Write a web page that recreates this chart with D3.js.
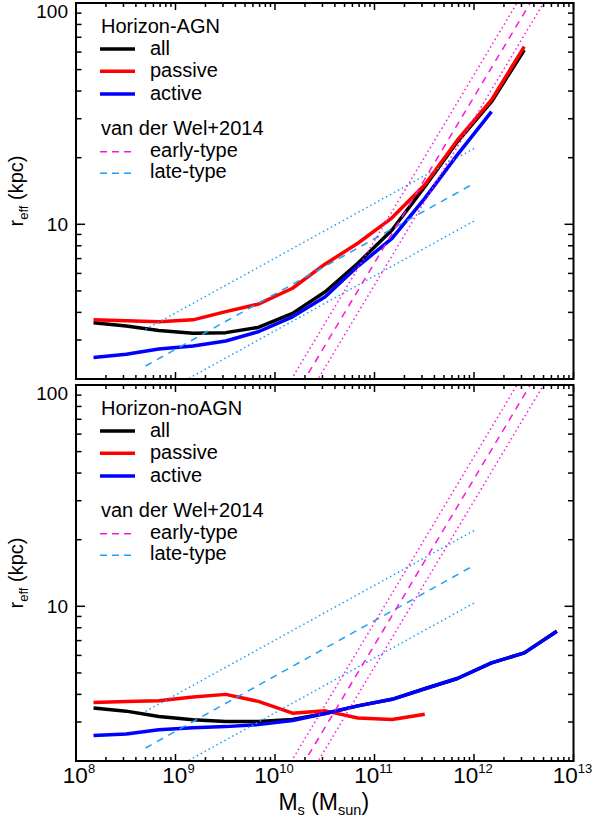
<!DOCTYPE html>
<html>
<head>
<meta charset="utf-8">
<script src="https://cdn.jsdelivr.net/npm/d3@7"></script>
<style>
  body { margin: 0; background: #fff; }
  svg { display: block; font-family: "Liberation Sans", Arial, Helvetica, sans-serif; }
</style>
</head>
<body>
<svg id="chart" width="592" height="821"></svg>
<script>
// stellar mass bins (M_sun)
const massBins = [1.5e8, 3.2e8, 6.8e8, 1.5e9, 3.2e9, 6.8e9, 1.5e10, 3.2e10, 6.8e10,
                  1.5e11, 3.2e11, 6.8e11, 1.5e12, 3.2e12, 6.8e12];

// Horizon-AGN, r_eff (kpc)
const agnAll     = [3.59, 3.47, 3.31, 3.22, 3.24, 3.42, 3.96, 4.96, 6.67, 9.42, 14.8, 23.6, 35.8, 61.3];
const agnPassive = [3.70, 3.67, 3.63, 3.70, 4.03, 4.36, 5.14, 6.62, 8.21, 10.7, 15.1, 24.0, 36.5, 63.5];
const agnActive  = [2.50, 2.59, 2.73, 2.82, 2.97, 3.27, 3.82, 4.71, 6.46, 8.64, 13.1, 20.6, 32.3];

// Horizon-noAGN, r_eff (kpc)
const noagnAll     = [3.47, 3.36, 3.18, 3.07, 3.02, 3.02, 3.08, 3.28, 3.55, 3.80, 4.24, 4.72, 5.55, 6.16, 7.71];
const noagnPassive = [3.68, 3.71, 3.74, 3.89, 4.00, 3.72, 3.29, 3.37, 3.13, 3.08, 3.25];
const noagnActive  = [2.61, 2.65, 2.77, 2.83, 2.86, 2.92, 3.05, 3.28, 3.55, 3.80, 4.24, 4.72, 5.55, 6.16, 7.71];

// van der Wel+2014 relations: end points [mass, r_eff] (mid, +1 sigma, -1 sigma)
const lateMass  = [5e8, 1e12];
const lateMid   = [2.29, 15.3];
const lateHigh  = [3.35, 22.0];
const lateLow   = [1.57, 10.35];
const earlyMass = [1e10, 1e13];
const earlyMid  = [1.19, 211.8];
const earlyHigh = [1.50, 266.6];
const earlyLow  = [0.945, 168.3];

const xTickLabels = ["8", "9", "10", "11", "12", "13"];
const yTickLabels = ["100", "10"];

const svg = d3.select("#chart");
const xLeft = 76, xRight = 573.5, panelH = 376;

const x = d3.scaleLog().domain([1e8, 1e13]).range([xLeft, xRight]);

const colAll = "#000000", colPassive = "#ff0000", colActive = "#0000ff";
const colEarly = "#ff14dc", colLate = "#1ea0f5";

const panels = [
  {top: 3,   title: "Horizon-AGN",   all: agnAll,   passive: agnPassive,   active: agnActive,   bottomLabels: false},
  {top: 385, title: "Horizon-noAGN", all: noagnAll, passive: noagnPassive, active: noagnActive, bottomLabels: true}
];

const toPts = (ms, rs) => rs.map((r, i) => [ms[i], r]);

panels.forEach((p, pi) => {
  const y = d3.scaleLog().domain([2, 100]).range([p.top + panelH, p.top]);
  const line = d3.line().x(d => x(d[0])).y(d => y(d[1]));
  const g = svg.append("g");

  const clipId = "clip" + pi;
  svg.append("clipPath").attr("id", clipId)
    .append("rect").attr("x", xLeft).attr("y", p.top)
    .attr("width", xRight - xLeft).attr("height", panelH);

  const plot = g.append("g").attr("clip-path", "url(#" + clipId + ")");

  // simulation curves
  [[p.all, colAll], [p.passive, colPassive], [p.active, colActive]].forEach(([rs, c]) => {
    plot.append("path")
      .attr("d", line(toPts(massBins, rs)))
      .attr("fill", "none").attr("stroke", c)
      .attr("stroke-width", 3.5).attr("stroke-linejoin", "round");
  });

  // observed relations
  const refs = [
    [lateMass, lateMid, colLate, "7,6"], [lateMass, lateHigh, colLate, "1.5,3"], [lateMass, lateLow, colLate, "1.5,3"],
    [earlyMass, earlyMid, colEarly, "7,6"], [earlyMass, earlyHigh, colEarly, "1.5,3"], [earlyMass, earlyLow, colEarly, "1.5,3"]
  ];
  refs.forEach(([ms, rs, c, dash]) => {
    plot.append("path")
      .attr("d", line(toPts(ms, rs)))
      .attr("fill", "none").attr("stroke", c)
      .attr("stroke-width", 1.5).attr("stroke-dasharray", dash);
  });

  // frame
  g.append("rect").attr("x", xLeft).attr("y", p.top)
    .attr("width", xRight - xLeft).attr("height", panelH)
    .attr("fill", "none").attr("stroke", "#000").attr("stroke-width", 2);

  // x ticks (bottom and top, inward)
  const isMajor = v => Math.abs(Math.log10(v) - Math.round(Math.log10(v))) < 1e-6;
  x.ticks().forEach(v => {
    const len = isMajor(v) ? 7 : 4;
    const xv = x(v);
    g.append("line").attr("x1", xv).attr("x2", xv)
      .attr("y1", p.top + panelH).attr("y2", p.top + panelH - len)
      .attr("stroke", "#000").attr("stroke-width", 1.5);
    g.append("line").attr("x1", xv).attr("x2", xv)
      .attr("y1", p.top).attr("y2", p.top + len)
      .attr("stroke", "#000").attr("stroke-width", 1.5);
  });

  // y ticks (left and right, inward)
  y.ticks().forEach(v => {
    const len = isMajor(v) ? 9 : 5.5;
    const yv = y(v);
    g.append("line").attr("x1", xLeft).attr("x2", xLeft + len)
      .attr("y1", yv).attr("y2", yv).attr("stroke", "#000").attr("stroke-width", 1.5);
    g.append("line").attr("x1", xRight).attr("x2", xRight - len)
      .attr("y1", yv).attr("y2", yv).attr("stroke", "#000").attr("stroke-width", 1.5);
  });

  // y tick labels
  g.append("text").attr("x", 68).attr("y", p.top + 14.5)
    .attr("text-anchor", "end").attr("font-size", 19).text(yTickLabels[0]);
  g.append("text").attr("x", 68).attr("y", y(10) + 7)
    .attr("text-anchor", "end").attr("font-size", 19).text(yTickLabels[1]);

  // y title
  const yt = g.append("text")
    .attr("transform", "translate(23," + (p.top + panelH / 2) + ") rotate(-90)")
    .attr("text-anchor", "middle").attr("font-size", 20);
  yt.append("tspan").text("r");
  yt.append("tspan").attr("font-size", 13).attr("dy", 5).text("eff");
  yt.append("tspan").attr("dy", -5).text(" (kpc)");

  // legend
  const lx1 = 100, lx2 = 135, tx = 150;
  const leg = g.append("g").attr("font-size", 20);
  leg.append("text").attr("x", 101).attr("y", p.top + 30).text(p.title);
  [["all", colAll, 52], ["passive", colPassive, 74.3], ["active", colActive, 97]].forEach(([t, c, dy]) => {
    leg.append("line").attr("x1", lx1).attr("x2", lx2)
      .attr("y1", p.top + dy - 6).attr("y2", p.top + dy - 6)
      .attr("stroke", c).attr("stroke-width", 3.5);
    leg.append("text").attr("x", tx).attr("y", p.top + dy).text(t);
  });
  leg.append("text").attr("x", 101).attr("y", p.top + 132).text("van der Wel+2014");
  [["early-type", colEarly, 153.7], ["late-type", colLate, 175.3]].forEach(([t, c, dy]) => {
    leg.append("line").attr("x1", lx1).attr("x2", lx2 - 2)
      .attr("y1", p.top + dy - 5).attr("y2", p.top + dy - 5)
      .attr("stroke", c).attr("stroke-width", 1.5).attr("stroke-dasharray", "7,5");
    leg.append("text").attr("x", tx).attr("y", p.top + dy).text(t);
  });

  // x tick labels + title on the bottom panel
  if (p.bottomLabels) {
    [1e8, 1e9, 1e10, 1e11, 1e12, 1e13].forEach((v, i) => {
      const shift = xTickLabels[i].length === 1 ? 3 : -1;
      const t = g.append("text").attr("x", x(v) + shift).attr("y", 783)
        .attr("text-anchor", "middle").attr("font-size", 22.5);
      t.append("tspan").text("10");
      t.append("tspan").attr("font-size", 13).attr("dy", -10).text(xTickLabels[i]);
    });
    const xt = g.append("text").attr("x", (xLeft + xRight) / 2 - 1).attr("y", 810)
      .attr("text-anchor", "middle").attr("font-size", 23);
    xt.append("tspan").text("M");
    xt.append("tspan").attr("font-size", 14.5).attr("dy", 5).text("s");
    xt.append("tspan").attr("dy", -5).text(" (M");
    xt.append("tspan").attr("font-size", 14.5).attr("dy", 5).text("sun");
    xt.append("tspan").attr("dy", -5).text(")");
  }
});
</script>
</body>
</html>
